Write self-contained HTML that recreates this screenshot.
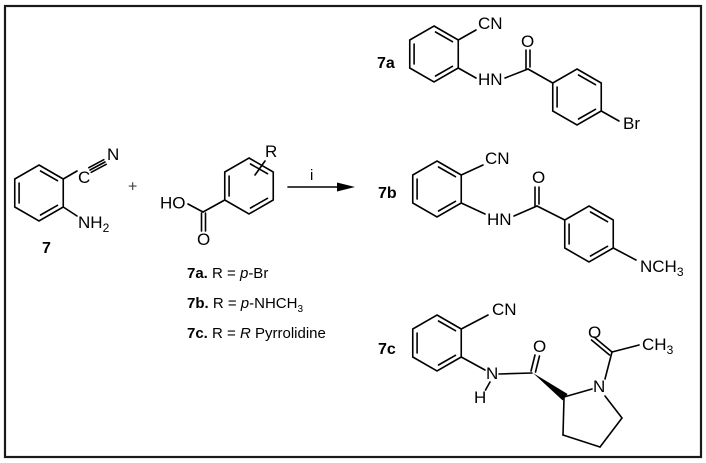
<!DOCTYPE html>
<html><head><meta charset="utf-8"><style>
html,body{margin:0;padding:0;background:#fff;}
svg{display:block;}
text{font-family:"Liberation Sans",Arial,sans-serif;fill:#000;}
.a{font-size:17px;}
.lb{font-size:16px;font-weight:bold;}
.t{font-size:15px;}
</style></head><body>
<svg width="706" height="463" viewBox="0 0 706 463" xmlns="http://www.w3.org/2000/svg">
<rect x="0" y="0" width="706" height="463" fill="#fff"/>
<rect x="5" y="6" width="696" height="451" fill="none" stroke="#1a1a1a" stroke-width="2.2"/>
<g stroke="#000" stroke-width="1.6" fill="none" stroke-linecap="round">
<!-- compound 7 -->
<polygon points="39,165 63.25,179 63.25,207 39,221 14.75,207 14.75,179"/>
<line x1="19.1" y1="183" x2="19.1" y2="203"/>
<line x1="40.5" y1="171" x2="57.5" y2="180.7"/>
<line x1="40.5" y1="215" x2="57.5" y2="205.3"/>
<line x1="63.25" y1="179" x2="77" y2="171"/>
<line x1="90" y1="170" x2="105" y2="162"/>
<line x1="91.2" y1="172.3" x2="106.2" y2="164.3"/>
<line x1="88.8" y1="167.7" x2="103.8" y2="159.7"/>
<line x1="63.25" y1="207" x2="77" y2="216"/>
<!-- benzoic acid -->
<polygon points="249,158 273.25,172 273.25,200 249,214 224.75,200 224.75,172"/>
<line x1="229.1" y1="176" x2="229.1" y2="196"/>
<line x1="250.5" y1="164" x2="267.5" y2="173.7"/>
<line x1="250.5" y1="208" x2="267.5" y2="198.3"/>
<line x1="255" y1="175" x2="265" y2="161"/>
<line x1="224.75" y1="200" x2="203" y2="212"/>
<line x1="203" y1="212" x2="188" y2="204"/>
<line x1="201.5" y1="213" x2="201.5" y2="231"/>
<line x1="205.5" y1="213" x2="205.5" y2="231"/>
<!-- arrow -->
<line x1="288" y1="187" x2="340" y2="187"/>
<!-- 7a -->
<polygon points="434,26 458.25,40 458.25,68 434,82 409.75,68 409.75,40"/>
<line x1="414.1" y1="44" x2="414.1" y2="64"/>
<line x1="435.5" y1="32" x2="452.5" y2="41.7"/>
<line x1="435.5" y1="76" x2="452.5" y2="66.3"/>
<line x1="458.25" y1="40" x2="476" y2="30"/>
<line x1="458.25" y1="68" x2="476" y2="78"/>
<line x1="505" y1="78" x2="528" y2="69"/>
<line x1="526" y1="50" x2="526" y2="69"/>
<line x1="530" y1="50" x2="530" y2="67"/>
<line x1="528" y1="69" x2="552.75" y2="83"/>
<polygon points="577,69 601.25,83 601.25,111 577,125 552.75,111 552.75,83"/>
<line x1="557.1" y1="87" x2="557.1" y2="107"/>
<line x1="578.5" y1="75" x2="595.5" y2="84.7"/>
<line x1="578.5" y1="119" x2="595.5" y2="109.3"/>
<line x1="601.25" y1="111" x2="619" y2="121"/>
<!-- 7b -->
<polygon points="437,161 461.25,175 461.25,203 437,217 412.75,203 412.75,175"/>
<line x1="417.1" y1="179" x2="417.1" y2="199"/>
<line x1="438.5" y1="167" x2="455.5" y2="176.7"/>
<line x1="438.5" y1="211" x2="455.5" y2="201.3"/>
<line x1="461.25" y1="175" x2="483" y2="165"/>
<line x1="461.25" y1="203" x2="485" y2="214"/>
<line x1="514" y1="216" x2="537" y2="206"/>
<line x1="535" y1="187" x2="535" y2="206"/>
<line x1="539" y1="187" x2="539" y2="204"/>
<line x1="537" y1="206" x2="564.75" y2="220"/>
<polygon points="589,206 613.25,220 613.25,248 589,262 564.75,248 564.75,220"/>
<line x1="569.1" y1="224" x2="569.1" y2="244"/>
<line x1="590.5" y1="212" x2="607.5" y2="221.7"/>
<line x1="590.5" y1="256" x2="607.5" y2="246.3"/>
<line x1="613.25" y1="248" x2="636" y2="260"/>
<!-- 7c -->
<polygon points="437,315 461.25,329 461.25,357 437,371 412.75,357 412.75,329"/>
<line x1="417.1" y1="333" x2="417.1" y2="353"/>
<line x1="438.5" y1="321" x2="455.5" y2="330.7"/>
<line x1="438.5" y1="365" x2="455.5" y2="355.3"/>
<line x1="461.25" y1="329" x2="488" y2="315"/>
<line x1="461.25" y1="357" x2="485" y2="370"/>
<line x1="490" y1="382" x2="485.5" y2="390"/>
<line x1="499" y1="374" x2="532" y2="373"/>
<line x1="531" y1="371" x2="535" y2="355"/>
<line x1="535.5" y1="372" x2="539.5" y2="356"/>
<line x1="564" y1="397" x2="592" y2="389"/>
<line x1="605" y1="396" x2="622" y2="418"/>
<line x1="622" y1="418" x2="600" y2="447"/>
<line x1="600" y1="447" x2="563" y2="435"/>
<line x1="563" y1="435" x2="564" y2="398"/>
<line x1="605" y1="379" x2="612" y2="352"/>
<line x1="612" y1="352" x2="594" y2="337"/>
<line x1="609.5" y1="355" x2="591.5" y2="340"/>
<line x1="612" y1="352" x2="639" y2="345"/>
</g>
<polygon points="337,182.5 355,187 337,191.5" fill="#000"/>
<polygon points="533,373 567.6,394 562.6,400.4" fill="#000"/>

<!-- text: compound 7 -->
<text class="a" x="78" y="183">C</text>
<text class="a" x="107" y="160">N</text>
<text class="a" x="78" y="228">NH<tspan font-size="12" dy="4">2</tspan></text>
<text class="lb" x="42" y="253">7</text>
<text x="128" y="191.5" font-size="16" style="fill:#444">+</text>
<text class="a" x="160" y="208.5">HO</text>
<text class="a" x="197" y="245">O</text>
<text class="a" x="265" y="157">R</text>
<text class="t" x="310" y="180">i</text>

<text class="t" x="187" y="278"><tspan font-weight="bold">7a.</tspan> R = <tspan font-style="italic">p</tspan>-Br</text>
<text class="t" x="187" y="308"><tspan font-weight="bold">7b.</tspan> R = <tspan font-style="italic">p</tspan>-NHCH<tspan font-size="10" dy="4">3</tspan></text>
<text class="t" x="187" y="338"><tspan font-weight="bold">7c.</tspan> R = <tspan font-style="italic">R</tspan> Pyrrolidine</text>

<!-- 7a -->
<text class="lb" x="377" y="68">7a</text>
<text class="a" x="478" y="29">CN</text>
<text class="a" x="478" y="85">HN</text>
<text class="a" x="521" y="47">O</text>
<text class="a" x="623" y="129">Br</text>
<!-- 7b -->
<text class="lb" x="378" y="198">7b</text>
<text class="a" x="485" y="164">CN</text>
<text class="a" x="487" y="225">HN</text>
<text class="a" x="532" y="183">O</text>
<text class="a" x="640" y="272">NCH<tspan font-size="12" dy="4">3</tspan></text>
<!-- 7c -->
<text class="lb" x="378" y="354">7c</text>
<text class="a" x="492" y="315">CN</text>
<text class="a" x="486" y="379">N</text>
<text class="a" x="474" y="403">H</text>
<text class="a" x="533" y="352">O</text>
<text class="a" x="593" y="392">N</text>
<text class="a" x="588" y="338">O</text>
<text class="a" x="642" y="350">CH<tspan font-size="12" dy="4">3</tspan></text>
</svg>
</body></html>
